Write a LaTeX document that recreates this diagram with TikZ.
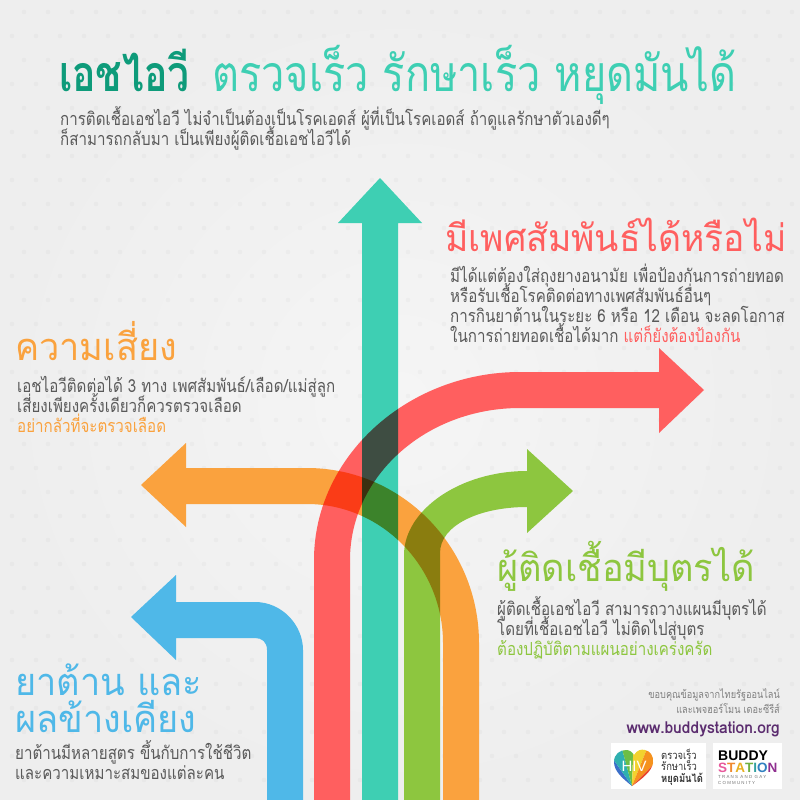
\documentclass[tikz,border=0pt]{standalone}
\usepackage{fontspec}
\setmainfont[Script=Thai,FakeStretch=0.84]{Loma}
\newfontfamily\headfont[Script=Thai,FakeStretch=0.95]{Loma}
\newfontfamily\titlefont[Script=Thai,FakeStretch=0.83,BoldFeatures={FakeStretch=0.78}]{Loma}
\newfontfamily\logofont{Liberation Sans}
\AtBeginDocument{\lineskiplimit=-100pt}
\definecolor{tealarrow}{HTML}{3ECFB3}
\definecolor{tealdark}{HTML}{0E9B7A}
\definecolor{redarrow}{HTML}{FF5F5F}
\definecolor{orangearrow}{HTML}{FAA23E}
\definecolor{greenarrow}{HTML}{8DC63F}
\definecolor{bluearrow}{HTML}{4FB8E8}
\definecolor{bodygray}{HTML}{5A5A5A}
\definecolor{creditgray}{HTML}{808080}
\definecolor{webpurple}{HTML}{5B2C6F}
\definecolor{bgcentre}{HTML}{F5F5F5}
\definecolor{bgedge}{HTML}{EEEEEE}
\tikzset{
x=1pt, y=-1pt, % pixels of the reference, y runs down
arrowshape/.style={blend mode=multiply}, % overlaps darken
titletext/.style={inner sep=0pt, anchor=base west, font=\titlefont\fontsize{50}{50}\selectfont},
headtext/.style={inner sep=0pt, anchor=base west, font=\headfont\fontsize{38}{38}\selectfont},
bodytext/.style={inner sep=0pt, anchor=base west, align=left, text=bodygray, font=\fontsize{18}{20}\selectfont}, % base anchor sits on the last line
credittext/.style={inner sep=0pt, anchor=base east, align=right, text=creditgray, font=\fontsize{10.9}{15}\selectfont},
logotext/.style={inner sep=0pt, anchor=base west, text height=9.5pt, text depth=0pt, font=\logofont\bfseries\fontsize{14}{14}\selectfont},
}
\begin{document}
\begin{tikzpicture}
        \useasboundingbox (0,0) rectangle (800,800);
        % background and its dots
        \path[inner color=bgcentre, outer color=bgedge] (0,0) rectangle (800,800);
        \foreach \row in {0,...,33}
          \foreach \col in {0,...,33}
            \fill[black, opacity=.025] ({\col*24+12+12*mod(\row+1,2)},{\row*24+12}) circle (2.4);

        \begin{scope}[transparency group]
        % blue
        \fill[bluearrow, arrowshape] (267,800) -- (267,650) .. controls (267,642) and (262,638) .. (255,638) -- (176,638) -- (176,660) -- (131,617) -- (176,575) -- (176,602) -- (255,602) .. controls (282,602) and (303,625) .. (303,650) -- (303,800) -- cycle;
        % teal
        \fill[tealarrow, arrowshape] (362,800) -- (362,223) -- (338,223) -- (380,178) -- (422,223) -- (398,223) -- (398,800) -- cycle;
        % red
        \fill[redarrow, arrowshape] (314,800) -- (314,560) .. controls (314,457) and (407,372) .. (520,372) -- (659,372) -- (659,348) -- (704,390) -- (659,433) -- (659,408) -- (520,408) .. controls (426,408) and (350,476) .. (350,560) -- (350,800) -- cycle;
        % orange
        \fill[orangearrow, arrowshape] (479,800) -- (479,643) .. controls (479,547) and (402,468) .. (307,468) -- (186,468) -- (186,443) -- (141,485) -- (186,527) -- (186,504) -- (307,504) .. controls (382,504) and (443,567) .. (443,643) -- (443,800) -- cycle;
        % green
        \fill[greenarrow, arrowshape] (404,800) -- (404,555) .. controls (404,510) and (460,471) .. (527,471) -- (527,449) -- (573,491) -- (527,533) -- (527,507) .. controls (480,507) and (440,525) .. (440,553) -- (440,800) -- cycle;
        \end{scope}

        % title
        \node[titletext, text=tealdark] (titlehiv) at (59,92) {\textbf{เอชไอวี}};
        \node[titletext, text=tealarrow] (titlerest) at (212,92) {ตรวจเร็ว รักษาเร็ว หยุดมันได้};
        \node[bodytext] (intro) at (60,145) {การติดเชื้อเอชไอวี ไม่จำเป็นต้องเป็นโรคเอดส์ ผู้ที่เป็นโรคเอดส์ ถ้าดูแลรักษาตัวเองดีๆ\\ก็สามารถกลับมา เป็นเพียงผู้ติดเชื้อเอชไอวีได้};

        % red block
        \node[headtext, text=redarrow] (redhead) at (445,251) {\fontsize{37.3}{38}\selectfont มีเพศสัมพันธ์ได้หรือไม่};
        \node[bodytext] (redbody) at (450,342) {มีได้แต่ต้องใส่ถุงยางอนามัย เพื่อป้องกันการถ่ายทอด\\หรือรับเชื้อโรคติดต่อทางเพศสัมพันธ์อื่นๆ\\การกินยาต้านในระยะ 6 หรือ 12 เดือน จะลดโอกาส\\ในการถ่ายทอดเชื้อได้มาก \textcolor{redarrow}{แต่ก็ยังต้องป้องกัน}};

        % orange block
        \node[headtext, text=orangearrow] (orangehead) at (15,360) {ความเสี่ยง};
        \node[bodytext] (orangebody) at (17,432) {เอชไอวีติดต่อได้ 3 ทาง เพศสัมพันธ์/เลือด/แม่สู่ลูก\\เสี่ยงเพียงครั้งเดียวก็ควรตรวจเลือด\\\textcolor{orangearrow}{อย่ากลัวที่จะตรวจเลือด}};

        % green block
        \node[headtext, text=greenarrow] (greenhead) at (497,581) {ผู้ติดเชื้อมีบุตรได้};
        \node[bodytext] (greenbody) at (497,655) {ผู้ติดเชื้อเอชไอวี สามารถวางแผนมีบุตรได้\\โดยที่เชื้อเอชไอวี ไม่ติดไปสู่บุตร\\\textcolor{greenarrow}{ต้องปฏิบัติตามแผนอย่างเคร่งครัด}};

        % blue block
        \node[headtext, text=bluearrow] (bluehead) at (15,695) {ยาต้าน และ};
        \node[headtext, text=bluearrow] (blueheadtwo) at (15,732) {ผลข้างเคียง};
        \node[bodytext] (bluebody) at (15,779) {ยาต้านมีหลายสูตร ขึ้นกับการใช้ชีวิต\\และความเหมาะสมของแต่ละคน};

        % credits
        \node[credittext] (credit) at (780,713) {ขอบคุณข้อมูลจากไทยรัฐออนไลน์\\และเพจฮอร์โมน เดอะซีรีส์};
        \node[inner sep=0pt, anchor=base east, text=webpurple, font=\headfont\bfseries\fontsize{16.4}{17}\selectfont] (web) at (780,733) {www.buddystation.org};

        % heart logo
        \fill[white] (611,743) rectangle (706,789);
        \begin{scope}
          \clip (632,786) .. controls (622,778) and (614,771) .. (614,762) .. controls (614,754) and (620,750) .. (626,750) .. controls (630,750) and (632,752) .. (634,755) .. controls (637,750) and (641,749) .. (645,750) .. controls (650,751) and (654,756) .. (653,763) .. controls (652,771) and (642,779) .. (632,786) -- cycle;
          \foreach \a/\b/\c in {180/150/5B3A9E, 150/125/3B6FC9, 125/105/2FB0B0, 105/88/6CBE45, 88/68/F2D22E, 68/45/F5921E, 45/-10/E8452C} {
            \definecolor{wedgecol}{HTML}{\c}
            \fill[wedgecol] (632,786) -- ({632+80*cos(\a)},{786-80*sin(\a)}) -- ({632+80*cos(\b)},{786-80*sin(\b)}) -- cycle;
          }
        \end{scope}
        \node[inner sep=0pt, anchor=base, text=white, font=\logofont\fontsize{15}{15}\selectfont] (hiv) at (634,771) {HIV};
        \node[inner sep=0pt, anchor=base west, align=left, text=black!80, font=\fontsize{11.2}{11.5}\selectfont] (logoword) at (661,782) {ตรวจเร็ว\\รักษาเร็ว\\\textbf{หยุดมันได้}};

        % buddy station logo
        \fill[white] (713,743) rectangle (782,789);
        \node[logotext] (buddy) at (718,760) {BUDDY};
        \node[logotext] (station) at (718,772) {\fontsize{13.5}{13.5}\selectfont\textcolor[HTML]{E85A9C}{S}\textcolor[HTML]{F08A30}{T}\textcolor[HTML]{E8B020}{A}\textcolor[HTML]{70B040}{T}\textcolor[HTML]{30A0A0}{I}\textcolor[HTML]{3080C0}{O}\textcolor[HTML]{903090}{N}};
        \node[inner sep=0pt, anchor=base west, align=left, text=black!55, font=\logofont\fontsize{4.4}{5.5}\selectfont] (community) at (718,784) {T R A N S\ \ A N D\ \ G A Y\\C O M M U N I T Y};
\end{tikzpicture}
\end{document}
